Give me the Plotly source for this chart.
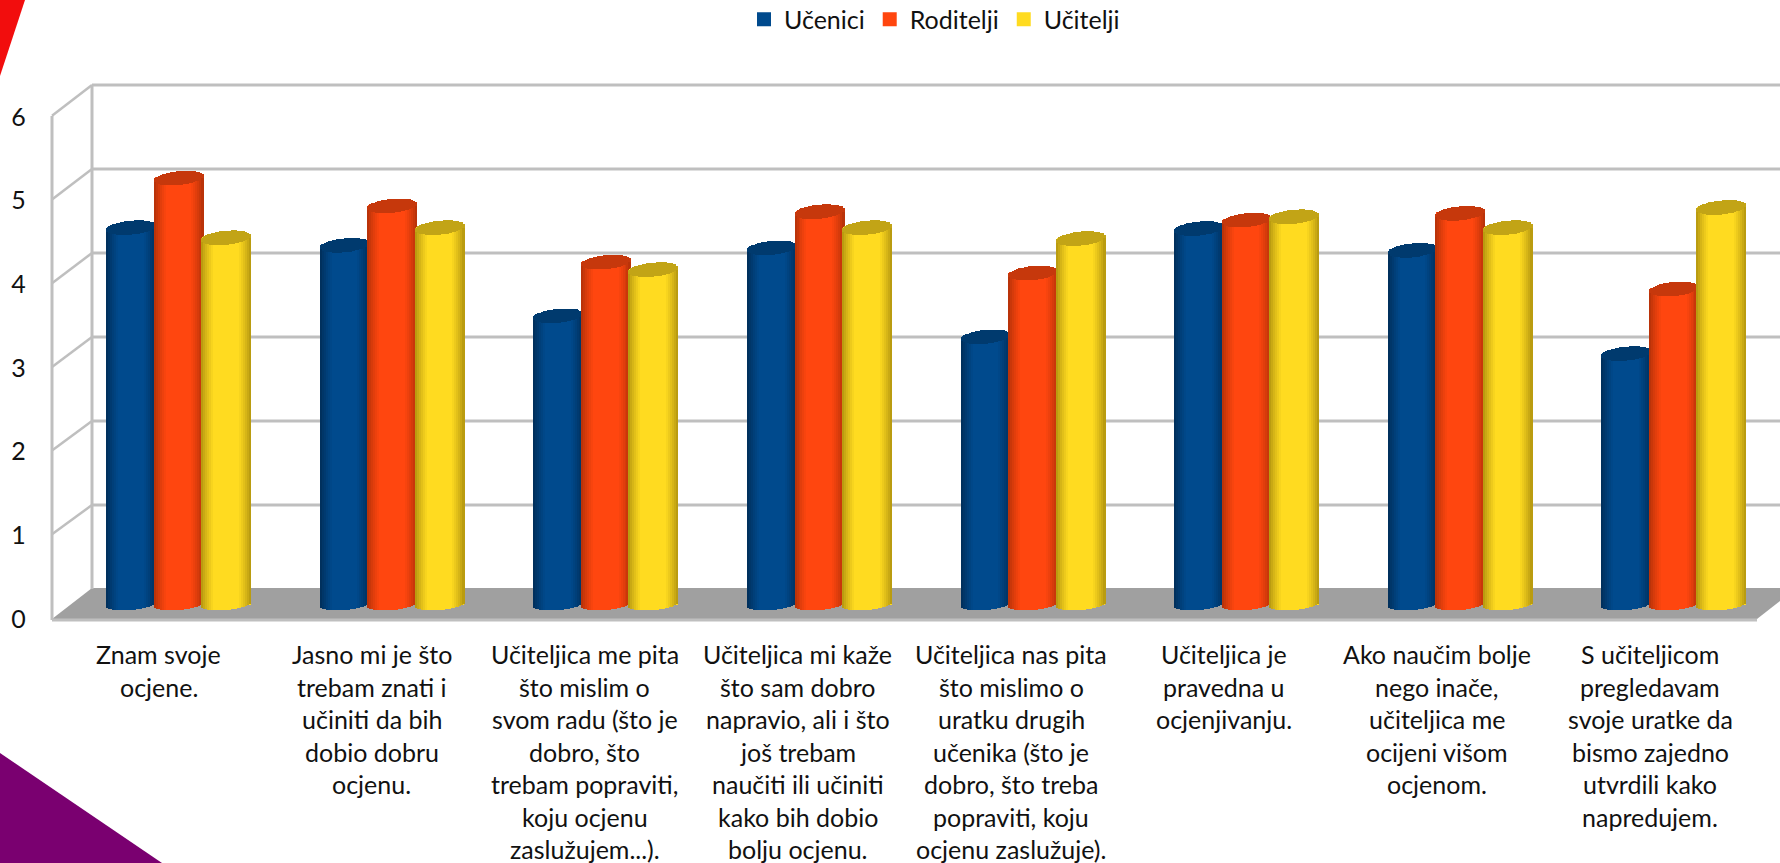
import math
import plotly.graph_objects as go

# ---------- data ----------
category_lines = [
    ["Znam svoje", "ocjene."],
    ["Jasno mi je što", "trebam znati i", "učiniti da bih", "dobio dobru", "ocjenu."],
    ["Učiteljica me pita", "što mislim o", "svom radu (što je", "dobro, što", "trebam popraviti,", "koju ocjenu", "zaslužujem...)."],
    ["Učiteljica mi kaže", "što sam dobro", "napravio, ali i što", "još trebam", "naučiti ili učiniti", "kako bih dobio", "bolju ocjenu."],
    ["Učiteljica nas pita", "što mislimo o", "uratku drugih", "učenika (što je", "dobro, što treba", "popraviti, koju", "ocjenu zaslužuje)."],
    ["Učiteljica je", "pravedna u", "ocjenjivanju."],
    ["Ako naučim bolje", "nego inače,", "učiteljica me", "ocijeni višom", "ocjenom."],
    ["S učiteljicom", "pregledavam", "svoje uratke da", "bismo zajedno", "utvrdili kako", "napredujem."],
]
categories = [" ".join(c) for c in category_lines]
ucenici = [4.48, 4.27, 3.43, 4.24, 3.18, 4.47, 4.21, 2.98]
roditelji = [5.07, 4.74, 4.07, 4.67, 3.94, 4.57, 4.65, 3.75]
ucitelji = [4.36, 4.48, 3.98, 4.48, 4.35, 4.61, 4.48, 4.72]
y_ticks = [0, 1, 2, 3, 4, 5, 6]

series_names = ["Učenici", "Roditelji", "Učitelji"]
series_values = [ucenici, roditelji, ucitelji]
base_colors = [(0, 74, 141), (255, 70, 15), (255, 219, 32)]
edge_colors = [(0, 44, 86), (176, 48, 8), (176, 146, 14)]
cap_colors = [(0, 58, 110), (198, 56, 12), (194, 164, 22)]

# ---------- geometry ----------
W, H = 1780, 863
GROUP_PX = 213.6
FIRST_PX = 179.0
Y0_PX, UNIT_PX = 604.0, 84.0
BAR_PX = 49.5
SHIFT_PX = 47.5
STRIPS = 25
CAP_A = 7.0 / UNIT_PX
BOT_B = 6.0 / UNIT_PX
TILT = 2.2 / UNIT_PX


def px_y(p):
    return (Y0_PX - p) / UNIT_PX


def rgb(c):
    return "rgb(%d,%d,%d)" % c


def mix(a, b, t):
    return tuple(round(a[i] + (b[i] - a[i]) * t) for i in range(3))


fig = go.Figure()
n = len(categories)

for s, name in enumerate(series_names):
    vals = series_values[s]
    # the true bar, carrying the series value and the legend entry
    fig.add_trace(go.Bar(
        x=categories, y=vals, name=name, legendgroup=name,
        width=(BAR_PX - 3) / GROUP_PX,
        offset=((s - 1) * SHIFT_PX - (BAR_PX - 3) / 2) / GROUP_PX,
        marker=dict(color=rgb(base_colors[s]), line=dict(color=rgb(base_colors[s]), width=2)),
        hovertemplate="%{x}<br>" + name + ": %{y}<extra></extra>",
    ))
    strip_w = BAR_PX / STRIPS
    for k in range(STRIPS):
        u = (k + 0.5) / STRIPS * 2 - 1
        curve = math.sqrt(max(0, 1 - u * u))
        shade = min(1.0, (1 - abs(u)) / 0.5)
        col = rgb(mix(edge_colors[s], base_colors[s], shade ** 0.8))
        offset = ((s - 1) * SHIFT_PX - BAR_PX / 2 + k * strip_w) / GROUP_PX
        low = [-BOT_B * curve + TILT * u for _ in vals]
        mid = [v - CAP_A * curve + TILT * u for v in vals]
        top = [v + CAP_A * curve + TILT * u for v in vals]
        fig.add_trace(go.Bar(
            x=categories, base=low, y=[m - l for m, l in zip(mid, low)],
            width=strip_w / GROUP_PX, offset=offset,
            marker=dict(color=col, line=dict(width=0)),
            showlegend=False, legendgroup=name, hoverinfo="skip",
        ))
        fig.add_trace(go.Bar(
            x=categories, base=mid, y=[t - m for t, m in zip(top, mid)],
            width=strip_w / GROUP_PX, offset=offset,
            marker=dict(color=rgb(cap_colors[s]), line=dict(width=0)),
            showlegend=False, legendgroup=name, hoverinfo="skip",
        ))

# helper trace that brings in the front value axis
fig.add_trace(go.Scatter(x=[categories[0]], y=[0], yaxis="y2", mode="markers",
                         marker=dict(opacity=0), showlegend=False, hoverinfo="skip"))

# ---------- frame ----------
GRID = "#bfbfbf"
BACK_L, FRONT_L, FRONT_R = 92, 52, 1757
FRONT_Y0, FRONT_UNIT = 618.0, 83.7
BACK_Y0, BACK_UNIT = 589.0, 84.0
TICK_Y0 = 619.0


def fx(p):
    return p / W


def fy(p):
    return 1 - p / H


def poly(pts):
    return "M " + " L ".join("%.5f,%.5f" % (fx(a), fy(b)) for a, b in pts) + " Z"


shapes = []
shapes.append(dict(type="path", xref="paper", yref="paper", layer="below", line=dict(width=0),
                   fillcolor="#f20d0d", path=poly([(0, 0), (25, 0), (0, 76)])))
shapes.append(dict(type="path", xref="paper", yref="paper", layer="below", line=dict(width=0),
                   fillcolor="#7a0070", path=poly([(0, 753), (162, 863), (0, 863)])))
shapes.append(dict(type="path", xref="paper", yref="paper", layer="below", line=dict(width=0),
                   fillcolor="#a0a0a0",
                   path=poly([(FRONT_L, 619), (BACK_L, 588), (W, 588), (W, 601), (FRONT_R, 619)])))
for v in y_ticks:
    by, fyy = BACK_Y0 - v * BACK_UNIT, FRONT_Y0 - v * FRONT_UNIT
    if v > 0:
        shapes.append(dict(type="line", xref="paper", yref="paper", layer="below",
                           x0=fx(BACK_L), x1=1, y0=fy(by), y1=fy(by), line=dict(color=GRID, width=3)))
        shapes.append(dict(type="line", xref="paper", yref="paper", layer="below",
                           x0=fx(FRONT_L), x1=fx(BACK_L), y0=fy(fyy), y1=fy(by), line=dict(color=GRID, width=2.5)))
for x0, y0, y1 in [(BACK_L, 85, 589), (FRONT_L, 116, 620)]:
    shapes.append(dict(type="line", xref="paper", yref="paper", layer="below",
                       x0=fx(x0), x1=fx(x0), y0=fy(y0), y1=fy(y1), line=dict(color=GRID, width=3)))
shapes.append(dict(type="line", xref="paper", yref="paper", layer="below",
                   x0=fx(FRONT_L), x1=fx(FRONT_R), y0=fy(620), y1=fy(620), line=dict(color=GRID, width=3)))

# ---------- category labels ----------
FONT = "Lato"
annotations = []
for i, lines in enumerate(category_lines):
    for j, text in enumerate(lines):
        annotations.append(dict(
            text=text, xref="paper", yref="paper", showarrow=False,
            x=fx(158.6 + 213.1 * i), y=fy(654 + 32.5 * j), xanchor="center", yanchor="middle",
            font=dict(family=FONT, size=25, color="#111111"),
        ))

fig.update_layout(
    width=W, height=H, autosize=False,
    margin=dict(l=0, r=0, t=0, b=0, pad=0),
    paper_bgcolor="white", plot_bgcolor="rgba(0,0,0,0)",
    barmode="overlay", bargap=0,
    font=dict(family=FONT, color="#111111"),
    xaxis=dict(type="category", categoryorder="array", categoryarray=categories,
               range=[-FIRST_PX / GROUP_PX, (W - FIRST_PX) / GROUP_PX], visible=False, fixedrange=True),
    yaxis=dict(range=[px_y(H), px_y(0)], visible=False, fixedrange=True),
    yaxis2=dict(overlaying="y", side="left", anchor="free", position=0.0145,
                range=[(TICK_Y0 - H) / FRONT_UNIT, TICK_Y0 / FRONT_UNIT],
                tickmode="array", tickvals=y_ticks, ticktext=[str(t) for t in y_ticks],
                tickfont=dict(family=FONT, size=25, color="#111111"),
                showgrid=False, zeroline=False, showline=False, ticks="", fixedrange=True),
    legend=dict(orientation="h", x=0.525, xanchor="center", y=1, yanchor="top",
                font=dict(family=FONT, size=25, color="#111111"),
                itemwidth=30, bgcolor="rgba(0,0,0,0)", traceorder="normal"),
    shapes=shapes, annotations=annotations,
    showlegend=True,
)

POST = """
document.body.style.margin='0';
document.body.style.fontVariantLigatures='none';
document.documentElement.style.overflow='hidden';
var lg=document.querySelector('.legend');
if(lg){var m=/translate\\(([-\\d.]+)[ ,]+([-\\d.]+)\\)/.exec(lg.getAttribute('transform')||'');
if(m){lg.setAttribute('transform','translate('+m[1]+','+(parseFloat(m[2])-3.5)+')');}
lg.querySelectorAll('clipPath rect').forEach(function(r){r.setAttribute('y',String(parseFloat(r.getAttribute('y')||'0')));});
var sv=lg.closest('svg');if(sv){sv.style.overflow='visible';}}
"""
fig.write_html("out.html", config={"displayModeBar": False}, post_script=POST)
